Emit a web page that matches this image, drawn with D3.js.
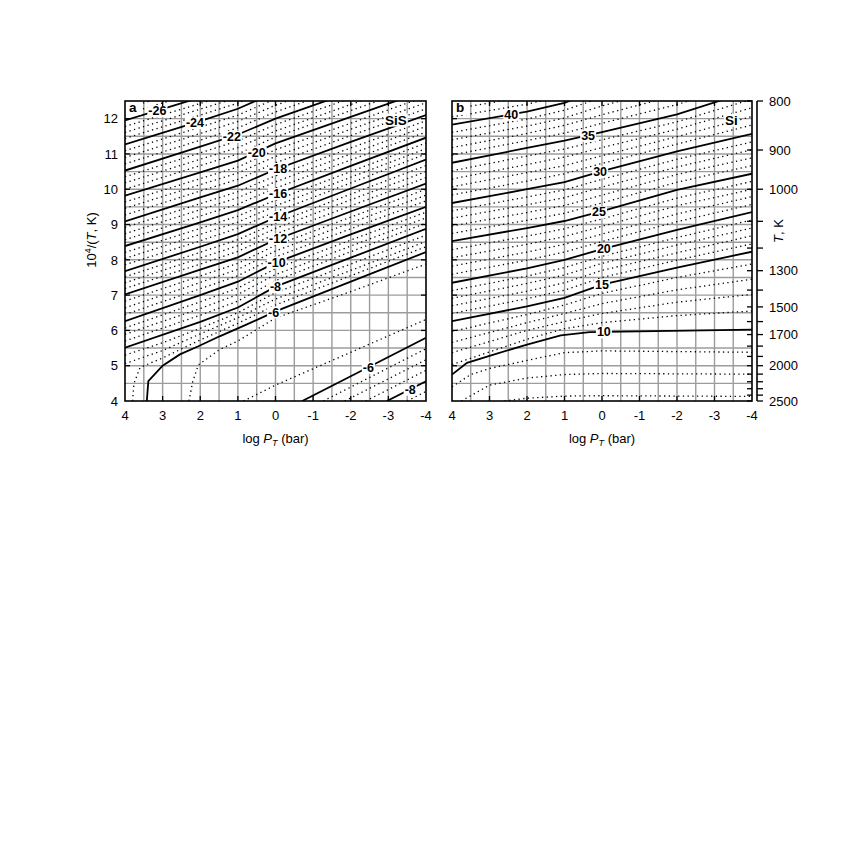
<!DOCTYPE html>
<html lang="en">
<head>
<meta charset="utf-8">
<title>SiS and Si contours</title>
<script src="https://cdn.jsdelivr.net/npm/d3@7/dist/d3.min.js"></script>
<style>
  body { margin: 0; background: #fff; }
  text { font-family: "Liberation Sans", Arial, Helvetica, sans-serif; }
</style>
</head>
<body>
<script>

// log P_T columns at which the contours below are read (10^4/T values)
var cols = [4, 2, 1, 0, -2, -4];

// panel a, SiS: labelled solid contours (lx = where the label sits)
var sisSolid = [
    {lev: -26, y: [11.95, 12.6, 12.92, 13.4, 14.1, 14.8], lx: 3.14},
    {lev: -24, y: [11.27, 11.93, 12.28, 12.75, 13.5, 14.2], lx: 2.14},
    {lev: -22, y: [10.53, 11.21, 11.55, 12.0, 12.75, 13.5], lx: 1.16},
    {lev: -20, y: [9.82, 10.48, 10.81, 11.3, 12.05, 12.8], lx: 0.5},
    {lev: -18, y: [9.09, 9.77, 10.1, 10.56, 11.34, 12.1], lx: -0.07},
    {lev: -16, y: [8.39, 9.06, 9.41, 9.85, 10.66, 11.46], lx: -0.07},
    {lev: -14, y: [7.68, 8.37, 8.73, 9.2, 10.02, 10.84], lx: -0.07},
    {lev: -12, y: [7.02, 7.72, 8.07, 8.57, 9.37, 10.16], lx: -0.07},
    {lev: -10, y: [6.26, 7.0, 7.38, 7.92, 8.72, 9.5], lx: -0.03},
    {lev: -8, y: [5.51, 6.24, 6.65, 7.24, 8.06, 8.88], lx: 0.0}
];
var sisSolidShaped = [
    {lev: -6, pts: [[3.42, 4], [3.38, 4.56], [3.0, 5.0], [2.54, 5.32], [2.05, 5.55], [1.47, 5.84], [0.76, 6.17], [0, 6.54], [-2, 7.38], [-4, 8.22]], lx: 0.05},
    {lev: -6, pts: [[-0.71, 4], [-2, 4.7], [-4, 5.79]], lx: -2.47},
    {lev: -8, pts: [[-2.96, 4], [-4, 4.56]], lx: -3.58}
];
// panel a dotted contours, every 0.5
var sisDotted = [
    {lev: -27.5, y: [12.46, 13.1, 13.42, 13.9, 14.6, 15.3]},
    {lev: -27, y: [12.29, 12.93, 13.25, 13.73, 14.43, 15.13]},
    {lev: -26.5, y: [12.12, 12.77, 13.09, 13.57, 14.27, 14.97]},
    {lev: -25.5, y: [11.78, 12.43, 12.76, 13.24, 13.95, 14.65]},
    {lev: -25, y: [11.61, 12.27, 12.6, 13.08, 13.8, 14.5]},
    {lev: -24.5, y: [11.44, 12.1, 12.44, 12.91, 13.65, 14.35]},
    {lev: -23.5, y: [11.09, 11.76, 12.1, 12.56, 13.31, 14.03]},
    {lev: -23, y: [10.9, 11.58, 11.92, 12.38, 13.13, 13.85]},
    {lev: -22.5, y: [10.72, 11.39, 11.74, 12.19, 12.94, 13.68]},
    {lev: -21.5, y: [10.35, 11.03, 11.37, 11.83, 12.58, 13.33]},
    {lev: -21, y: [10.18, 10.85, 11.18, 11.65, 12.4, 13.15]},
    {lev: -20.5, y: [10.0, 10.67, 11.0, 11.48, 12.23, 12.98]},
    {lev: -19.5, y: [9.64, 10.3, 10.63, 11.12, 11.87, 12.63]},
    {lev: -19, y: [9.46, 10.13, 10.46, 10.93, 11.7, 12.45]},
    {lev: -18.5, y: [9.27, 9.95, 10.28, 10.75, 11.52, 12.28]},
    {lev: -17.5, y: [8.92, 9.59, 9.93, 10.38, 11.17, 11.94]},
    {lev: -17, y: [8.74, 9.42, 9.76, 10.21, 11.0, 11.78]},
    {lev: -16.5, y: [8.57, 9.24, 9.58, 10.03, 10.83, 11.62]},
    {lev: -15.5, y: [8.21, 8.89, 9.24, 9.69, 10.5, 11.31]},
    {lev: -15, y: [8.04, 8.72, 9.07, 9.53, 10.34, 11.15]},
    {lev: -14.5, y: [7.86, 8.54, 8.9, 9.36, 10.18, 11.0]},
    {lev: -13.5, y: [7.52, 8.21, 8.57, 9.04, 9.86, 10.67]},
    {lev: -13, y: [7.35, 8.05, 8.4, 8.89, 9.7, 10.5]},
    {lev: -12.5, y: [7.19, 7.88, 8.24, 8.73, 9.53, 10.33]},
    {lev: -11.5, y: [6.83, 7.54, 7.9, 8.41, 9.21, 10.0]},
    {lev: -11, y: [6.64, 7.36, 7.73, 8.25, 9.05, 9.83]},
    {lev: -10.5, y: [6.45, 7.18, 7.55, 8.08, 8.88, 9.67]},
    {lev: -9.5, y: [6.07, 6.81, 7.2, 7.75, 8.56, 9.35]},
    {lev: -9, y: [5.89, 6.62, 7.02, 7.58, 8.39, 9.19]},
    {lev: -8.5, y: [5.7, 6.43, 6.83, 7.41, 8.23, 9.04]}
];
var sisDottedShaped = [
    {lev: -7.5, pts: [[4, 5.3], [3, 5.65], [2, 6.06], [1, 6.5], [0, 7.07], [-2, 7.88], [-4, 8.7]]},
    {lev: -7, pts: [[4, 5.06], [3, 5.43], [2, 5.9], [1, 6.36], [0, 6.89], [-2, 7.7], [-4, 8.52]]},
    {lev: -6.5, pts: [[3.8, 4], [3.76, 4.5], [3.6, 4.95], [3, 5.22], [2, 5.73], [1, 6.2], [0, 6.72], [-2, 7.55], [-4, 8.37]]},
    {lev: -5.5, pts: [[2.3, 4], [2.2, 4.55], [2.05, 5.02], [1.5, 5.45], [1, 5.7], [0, 6.35], [-2, 7.1], [-4, 7.88]]},
    {lev: -5.5, pts: [[0.85, 4], [0, 4.45], [-2, 5.38], [-4, 6.31]]},
    {lev: -6.5, pts: [[-1.27, 4], [-4, 5.48]]},
    {lev: -7, pts: [[-1.84, 4], [-4, 5.17]]},
    {lev: -7.5, pts: [[-2.4, 4], [-4, 4.87]]},
    {lev: -8.5, pts: [[-3.5, 4], [-4, 4.27]]}
];

// panel b, Si
var siSolid = [
    {lev: 40, y: [11.83, 12.2, 12.45, 12.85, 13.5, 14.1], lx: 2.42},
    {lev: 35, y: [10.75, 11.17, 11.38, 11.62, 12.12, 12.8], lx: 0.37},
    {lev: 30, y: [9.61, 10.0, 10.2, 10.51, 11.07, 11.57], lx: 0.05},
    {lev: 25, y: [8.53, 8.9, 9.1, 9.38, 9.98, 10.44], lx: 0.08},
    {lev: 20, y: [7.35, 7.76, 8.0, 8.3, 8.85, 9.35], lx: -0.05},
    {lev: 15, y: [6.26, 6.68, 6.92, 7.3, 7.78, 8.23], lx: 0.0}
];
var siSolidShaped = [
    {lev: 10, pts: [[4, 4.75], [3.6, 5.08], [3, 5.28], [2, 5.6], [1.1, 5.86], [0.33, 5.95], [-4, 6.02]], lx: -0.05}
];
var siDotted = [
    {lev: 43, y: [12.48, 12.83, 13.08, 13.5, 14.2, 14.8]},
    {lev: 42, y: [12.27, 12.62, 12.87, 13.28, 13.95, 14.55]},
    {lev: 41, y: [12.05, 12.41, 12.66, 13.06, 13.72, 14.32]},
    {lev: 39, y: [11.61, 11.99, 12.24, 12.6, 13.22, 13.84]},
    {lev: 38, y: [11.4, 11.79, 12.02, 12.36, 12.95, 13.58]},
    {lev: 37, y: [11.18, 11.58, 11.81, 12.11, 12.67, 13.32]},
    {lev: 36, y: [10.97, 11.38, 11.59, 11.87, 12.4, 13.06]},
    {lev: 34, y: [10.52, 10.94, 11.14, 11.4, 11.91, 12.55]},
    {lev: 33, y: [10.29, 10.7, 10.91, 11.18, 11.7, 12.31]},
    {lev: 32, y: [10.07, 10.47, 10.67, 10.95, 11.49, 12.06]},
    {lev: 31, y: [9.84, 10.23, 10.44, 10.73, 11.28, 11.82]},
    {lev: 29, y: [9.39, 9.78, 9.98, 10.28, 10.85, 11.34]},
    {lev: 28, y: [9.18, 9.56, 9.76, 10.06, 10.63, 11.12]},
    {lev: 27, y: [8.96, 9.34, 9.54, 9.83, 10.42, 10.89]},
    {lev: 26, y: [8.75, 9.12, 9.32, 9.61, 10.2, 10.67]},
    {lev: 24, y: [8.29, 8.67, 8.88, 9.16, 9.75, 10.22]},
    {lev: 23, y: [8.06, 8.44, 8.66, 8.95, 9.53, 10.0]},
    {lev: 22, y: [7.82, 8.22, 8.44, 8.73, 9.3, 9.79]},
    {lev: 21, y: [7.59, 7.99, 8.22, 8.52, 9.08, 9.57]},
    {lev: 19, y: [7.13, 7.54, 7.78, 8.1, 8.63, 9.13]},
    {lev: 18, y: [6.91, 7.33, 7.57, 7.9, 8.42, 8.9]},
    {lev: 17, y: [6.7, 7.11, 7.35, 7.7, 8.2, 8.68]},
    {lev: 16, y: [6.48, 6.9, 7.14, 7.5, 7.99, 8.45]},
    {lev: 14, y: [5.97, 6.45, 6.72, 7.05, 7.5, 7.88]},
    {lev: 13, y: [5.66, 6.22, 6.48, 6.76, 7.15, 7.45]},
    {lev: 12, y: [5.37, 6.0, 6.25, 6.48, 6.8, 7.02]},
    {lev: 11, y: [5.03, 5.75, 6.05, 6.22, 6.42, 6.55]}
];
var siDottedShaped = [
    {lev: 9, pts: [[4, 4.4], [3.5, 4.75], [3, 4.92], [2, 5.15], [1, 5.37], [0, 5.42], [-4, 5.38]]},
    {lev: 8, pts: [[3.75, 4], [3, 4.45], [2, 4.65], [1, 4.75], [0, 4.78], [-4, 4.76]]},
    {lev: 7, pts: [[2.6, 4], [2, 4.08], [1, 4.14], [0, 4.15], [-4, 4.13]]}
];

// axes
var xTicks = [4, 3, 2, 1, 0, -1, -2, -3, -4];
var yTicks = [4, 5, 6, 7, 8, 9, 10, 11, 12];
var tTicks = d3.range(800, 2501, 100);
var tLabels = [800, 900, 1000, 1300, 1500, 1700, 2000, 2500];

var w = 852, h = 852;
var top0 = 101, bot0 = 401;

var svg = d3.select("body").append("svg")
    .attr("width", w)
    .attr("height", h);

svg.append("rect").attr("width", w).attr("height", h).attr("fill", "white");

var y = d3.scaleLinear().domain([4, 12.5]).range([bot0, top0]);

function toPts(c) {
    if (c.pts) return c.pts;
    return cols.map(function(x, i) { return [x, c.y[i]]; });
}

function yAt(pts, x) {
    for (var i = 0; i < pts.length - 1; i++) {
        var a = pts[i], b = pts[i + 1];
        if (a[0] >= x && b[0] <= x) {
            var t = (a[0] - x) / (a[0] - b[0]);
            return a[1] + t * (b[1] - a[1]);
        }
    }
    return pts[pts.length - 1][1];
}

function boxedText(g, px, py, str, size, weight) {
    var gg = g.append("g");
    var r = gg.append("rect").attr("fill", "white");
    var t = gg.append("text")
        .attr("x", px).attr("y", py)
        .attr("dy", "0.36em")
        .attr("text-anchor", "middle")
        .attr("font-size", size)
        .attr("font-weight", weight)
        .text(str);
    var bb = t.node().getBBox();
    r.attr("x", bb.x - 1).attr("y", bb.y + 1)
        .attr("width", bb.width + 2).attr("height", bb.height - 2);
    return gg;
}

function drawPanel(id, x0, x1, solid, solidShaped, dotted, dottedShaped, name, tag) {
    var x = d3.scaleLinear().domain([4, -4]).range([x0, x1]);
    var g = svg.append("g");

    g.append("clipPath").attr("id", "clip" + id)
        .append("rect")
        .attr("x", x0).attr("y", top0)
        .attr("width", x1 - x0).attr("height", bot0 - top0);

    // grid every 0.5
    g.selectAll(".gx")
        .data(d3.range(-3.5, 4, 0.5))
        .enter().append("line")
        .attr("x1", function(d) { return x(d); })
        .attr("x2", function(d) { return x(d); })
        .attr("y1", top0).attr("y2", bot0)
        .attr("stroke", "#9c9c9c").attr("stroke-width", 1.4);
    g.selectAll(".gy")
        .data(d3.range(4.5, 12.5, 0.5))
        .enter().append("line")
        .attr("x1", x0).attr("x2", x1)
        .attr("y1", function(d) { return y(d); })
        .attr("y2", function(d) { return y(d); })
        .attr("stroke", "#9c9c9c").attr("stroke-width", 1.4);

    var line = d3.line()
        .x(function(d) { return x(d[0]); })
        .y(function(d) { return y(d[1]); });

    var c = g.append("g").attr("clip-path", "url(#clip" + id + ")");
    c.selectAll(".dot")
        .data(dotted.concat(dottedShaped))
        .enter().append("path")
        .attr("d", function(d) { return line(toPts(d)); })
        .attr("fill", "none")
        .attr("stroke", "black")
        .attr("stroke-width", 1.3)
        .attr("stroke-dasharray", "1.3,3.4");
    var allSolid = solid.concat(solidShaped);
    c.selectAll(".sol")
        .data(allSolid)
        .enter().append("path")
        .attr("d", function(d) { return line(toPts(d)); })
        .attr("fill", "none")
        .attr("stroke", "black")
        .attr("stroke-width", 1.8);

    // contour labels
    allSolid.forEach(function(d) {
        var pts = toPts(d);
        boxedText(g, x(d.lx), y(yAt(pts, d.lx)), String(d.lev), 12.5, "bold");
    });

    // species name and panel letter
    boxedText(g, x(name.x), y(name.y), name.text, 13.5, "bold");
    var tg = g.append("g");
    tg.append("rect").attr("x", x0).attr("y", top0)
        .attr("width", 16).attr("height", 14).attr("fill", "white");
    tg.append("text").attr("x", x0 + 4).attr("y", top0 + 11)
        .attr("font-size", 13.5).attr("font-weight", "bold").text(tag);

    // frame
    g.append("rect")
        .attr("x", x0).attr("y", top0)
        .attr("width", x1 - x0).attr("height", bot0 - top0)
        .attr("fill", "none").attr("stroke", "black").attr("stroke-width", 1.6);

    // inward ticks
    var inner = xTicks.slice(1, -1);
    g.selectAll(".tb")
        .data(inner).enter().append("line")
        .attr("x1", function(d) { return x(d); })
        .attr("x2", function(d) { return x(d); })
        .attr("y1", bot0).attr("y2", bot0 - 5)
        .attr("stroke", "black").attr("stroke-width", 1.3);
    g.selectAll(".tt")
        .data(inner).enter().append("line")
        .attr("x1", function(d) { return x(d); })
        .attr("x2", function(d) { return x(d); })
        .attr("y1", top0).attr("y2", top0 + 5)
        .attr("stroke", "black").attr("stroke-width", 1.3);
    g.selectAll(".tl")
        .data(yTicks.slice(1)).enter().append("line")
        .attr("x1", x0).attr("x2", x0 + 5)
        .attr("y1", function(d) { return y(d); })
        .attr("y2", function(d) { return y(d); })
        .attr("stroke", "black").attr("stroke-width", 1.3);
    var rightTicks = id === "a" ? yTicks.slice(1) : tTicks.map(function(t) { return 1e4 / t; });
    g.selectAll(".tr")
        .data(rightTicks).enter().append("line")
        .attr("x1", x1).attr("x2", x1 - 5)
        .attr("y1", function(d) { return y(d); })
        .attr("y2", function(d) { return y(d); })
        .attr("stroke", "black").attr("stroke-width", 1.3);

    // x tick labels
    g.selectAll(".xl")
        .data(xTicks).enter().append("text")
        .attr("x", function(d) { return x(d); })
        .attr("y", 420)
        .attr("text-anchor", "middle")
        .attr("font-size", 13)
        .text(function(d) { return d; });

    var xt = g.append("text")
        .attr("x", (x0 + x1) / 2).attr("y", 443)
        .attr("text-anchor", "middle")
        .attr("font-size", 13);
    xt.append("tspan").text("log ");
    xt.append("tspan").attr("font-style", "italic").text("P");
    xt.append("tspan").attr("font-style", "italic").attr("font-size", 9).attr("dy", 3).text("T");
    xt.append("tspan").attr("dy", -3).text(" (bar)");
}

drawPanel("a", 125, 426, sisSolid, sisSolidShaped, sisDotted, sisDottedShaped,
    {text: "SiS", x: -3.2, y: 11.97}, "a");
drawPanel("b", 452, 752, siSolid, siSolidShaped, siDotted, siDottedShaped,
    {text: "Si", x: -3.45, y: 11.97}, "b");

// left y axis labels
svg.selectAll(".yl")
    .data(yTicks).enter().append("text")
    .attr("x", 118)
    .attr("y", function(d) { return y(d); })
    .attr("dy", "0.36em")
    .attr("text-anchor", "end")
    .attr("font-size", 13)
    .text(function(d) { return d; });

var yt = svg.append("text")
    .attr("transform", "translate(96,240) rotate(-90)")
    .attr("text-anchor", "middle")
    .attr("font-size", 13);
yt.append("tspan").text("10");
yt.append("tspan").attr("font-size", 9).attr("dy", -5).text("4");
yt.append("tspan").attr("dy", 5).text("/(");
yt.append("tspan").attr("font-style", "italic").text("T");
yt.append("tspan").text(", K)");

// temperature axis on the right
var tx = 757;
svg.append("line")
    .attr("x1", tx).attr("x2", tx)
    .attr("y1", top0).attr("y2", bot0)
    .attr("stroke", "black").attr("stroke-width", 1.6);
svg.selectAll(".tk")
    .data(tTicks).enter().append("line")
    .attr("x1", tx).attr("x2", tx + 6)
    .attr("y1", function(d) { return y(1e4 / d); })
    .attr("y2", function(d) { return y(1e4 / d); })
    .attr("stroke", "black").attr("stroke-width", 1.3);
svg.selectAll(".tkl")
    .data(tLabels).enter().append("text")
    .attr("x", 769)
    .attr("y", function(d) { return y(1e4 / d); })
    .attr("dy", "0.36em")
    .attr("font-size", 13)
    .text(function(d) { return d; });

var tt = svg.append("text")
    .attr("transform", "translate(783,231) rotate(-90)")
    .attr("text-anchor", "middle")
    .attr("font-size", 13);
tt.append("tspan").attr("font-style", "italic").text("T");
tt.append("tspan").text(", K");

</script>
</body>
</html>
